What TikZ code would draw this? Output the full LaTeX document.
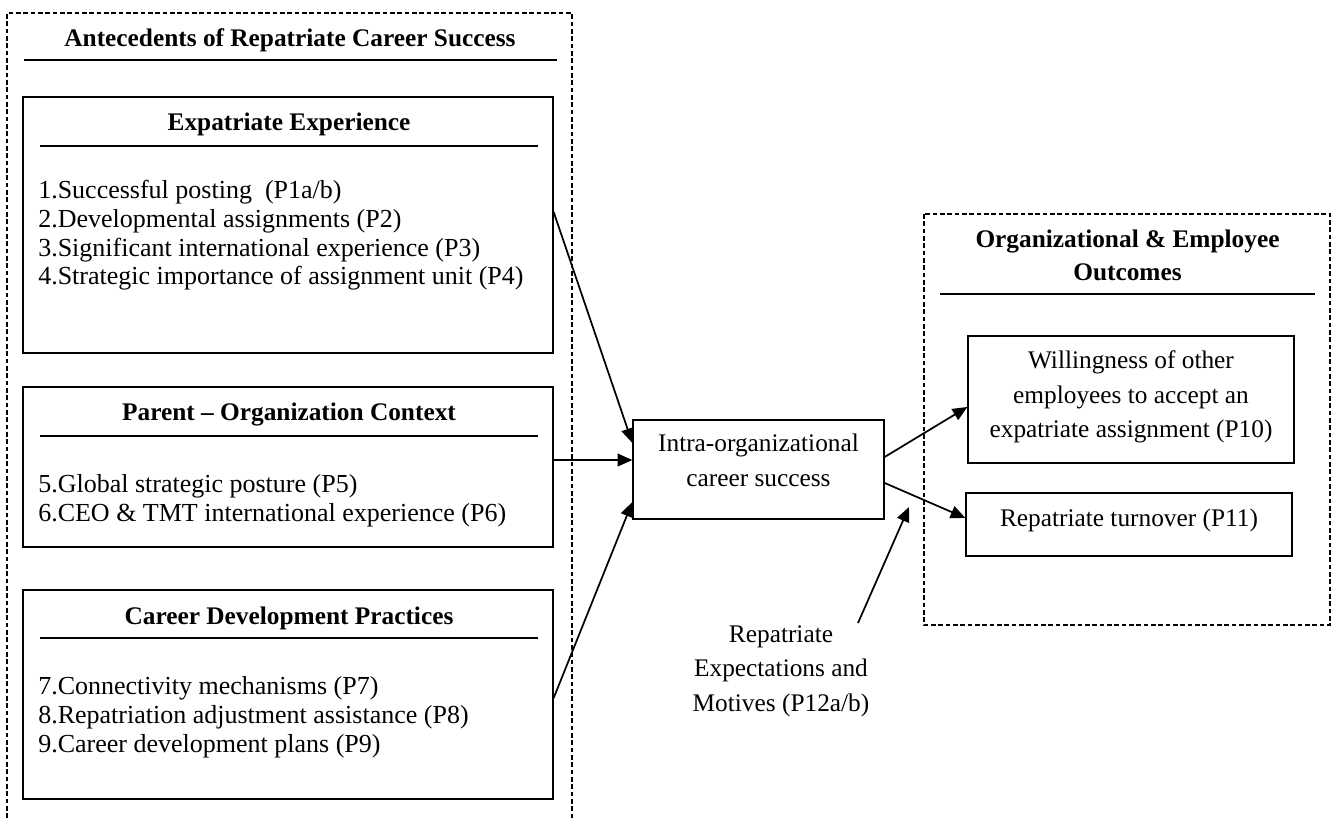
\documentclass[tikz,border=0pt]{standalone}
\usepackage{fontspec}
\setmainfont{Liberation Serif}
\usetikzlibrary{arrows.meta}
\begin{document}
\begin{tikzpicture}[x=0.75pt,y=-0.75pt,
  box/.style={draw, line width=1pt, inner sep=0pt},
  grp/.style={line width=0.8pt, dash pattern=on 3.5pt off 2pt},
  rule/.style={line width=1.7pt},
  ttl/.style={font=\fontsize{19}{22}\selectfont\bfseries, inner sep=0pt, anchor=base},
  itm/.style={font=\fontsize{19.5}{22}\selectfont, inner sep=0pt, anchor=base west},
  txt/.style={font=\fontsize{19}{22}\selectfont, inner sep=0pt, anchor=base},
  arr/.style={line width=1.3pt, -{Triangle[length=11pt,width=9.5pt]}}]
\useasboundingbox (0,0) rectangle (1336,818);

% group frames
\draw[grp] (7,818) -- (7,13) -- (572,13) -- (572,818);
\draw[grp] (924,214) rectangle (1330,625);

% left group title
\node[ttl] (gtl) at (290,46) {Antecedents of Repatriate Career Success};
\draw[rule] (24,60) -- (557,60);

% box 1
\node[box, minimum width=397.5pt, minimum height=192pt] (b1) at (288,225) {};
\node[ttl] (t1) at (289,130) {Expatriate Experience};
\draw[rule] (40,146) -- (538,146);
\node[itm] (i1) at (38,198) {1.Successful posting\ \ (P1a/b)};
\node[itm] (i2) at (38,227) {2.Developmental assignments (P2)};
\node[itm] (i3) at (38,256) {3.Significant international experience (P3)};
\node[itm] (i4) at (38,284) {4.Strategic importance of assignment unit (P4)};

% box 2
\node[box, minimum width=397.5pt, minimum height=120pt] (b2) at (288,467) {};
\node[ttl] (t2) at (289,420) {Parent \textendash\ Organization Context};
\draw[rule] (40,436) -- (538,436);
\node[itm] (i5) at (38,492) {5.Global strategic posture (P5)};
\node[itm] (i6) at (38,521) {6.CEO \& TMT international experience (P6)};

% box 3
\node[box, minimum width=397.5pt, minimum height=156.75pt] (b3) at (288,694.5) {};
\node[ttl] (t3) at (289,624) {Career Development Practices};
\draw[rule] (40,638) -- (538,638);
\node[itm] (i7) at (38,694) {7.Connectivity mechanisms (P7)};
\node[itm] (i8) at (38,723) {8.Repatriation adjustment assistance (P8)};
\node[itm] (i9) at (38,752) {9.Career development plans (P9)};

% central box
\node[box, minimum width=188.25pt, minimum height=74.25pt] (intra) at (758.5,469.5) {};
\node[txt] (c1) at (758.5,451) {Intra-organizational};
\node[txt] (c2) at (758.5,486) {career success};

% right group
\node[ttl] (rt1) at (1127.5,247) {Organizational \& Employee};
\node[ttl] (rt2) at (1127.5,280) {Outcomes};
\draw[rule] (940,294) -- (1315,294);

\node[box, minimum width=244.5pt, minimum height=95.25pt] (will) at (1131,399.5) {};
\node[txt] (w1) at (1131,368) {Willingness of other};
\node[txt] (w2) at (1131,403) {employees to accept an};
\node[txt] (w3) at (1131,437) {expatriate assignment (P10)};

\node[box, minimum width=244.5pt, minimum height=47.25pt] (turn) at (1129,524.5) {};
\node[txt] (tt) at (1129,526) {Repatriate turnover (P11)};

% moderator text
\node[txt] (r1) at (781,642) {Repatriate};
\node[txt] (r2) at (781,676) {Expectations and};
\node[txt] (r3) at (781,711) {Motives (P12a/b)};
\coordinate (m0) at (858,623);
\coordinate (m1) at (909,507);

% connectors
\draw[arr] ([yshift=9.75pt]b1.east) -- ([yshift=19.9pt]intra.west);
\draw[arr] ([yshift=5.25pt]b2.east) -- ([yshift=7.1pt]intra.west);
\draw[arr] ([yshift=-2.6pt]b3.east) -- ([yshift=-24.4pt]intra.west);
\draw[arr] ([yshift=9.4pt]intra.east) -- ([yshift=-5.6pt]will.west);
\draw[arr] ([yshift=-10.1pt]intra.east) -- ([yshift=4.9pt]turn.west);
\draw[arr] (m0) -- (m1);
\end{tikzpicture}
\end{document}
